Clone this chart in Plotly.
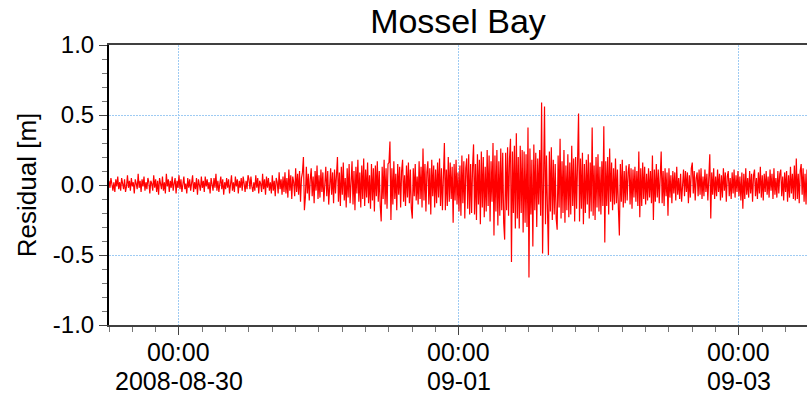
import pandas as pd
import plotly.graph_objects as go

# Residual water level [m], 10-minute samples starting 2008-08-29 12:00
start_time = "2008-08-29 12:00"
step = "10min"

res_day1 = [
    0.03,-0.02,0.05,0.01,-0.04,0.02,-0.05,0.04,-0.01,0.06,-0.03,0.02,
    -0.04,0.05,0.00,-0.03,0.04,-0.05,-0.01,0.07,-0.02,0.03,-0.04,0.05,
    -0.01,0.02,-0.06,0.04,0.01,-0.03,0.08,-0.02,0.03,-0.05,0.04,-0.01,
    0.06,-0.04,0.02,-0.03,0.05,0.02,-0.06,0.03,0.01,-0.04,0.07,-0.02,
    0.04,-0.05,0.03,-0.07,0.05,0.00,-0.03,0.06,-0.04,0.02,-0.06,0.08,
    -0.01,0.04,-0.05,0.03,-0.02,0.06,-0.04,0.01,0.05,-0.06,0.03,-0.02,
    0.07,-0.03,0.04,-0.05,0.02,0.06,-0.03,0.01,-0.06,0.05,-0.02,0.04,
    -0.04,0.03,0.07,-0.05,0.02,-0.03,0.05,-0.07,0.04,0.00,-0.04,0.06,
    -0.02,0.03,-0.05,0.06,-0.01,0.04,-0.03,0.02,-0.06,0.05,0.01,-0.04,
    0.05,-0.02,0.08,-0.04,0.03,-0.05,0.01,0.06,-0.03,0.04,-0.07,0.02,
    -0.03,0.05,-0.02,0.04,-0.06,0.03,0.07,-0.04,0.02,-0.05,0.06,-0.01,
    0.04,-0.06,0.03,-0.02,0.05,-0.04,0.06,0.01,-0.05,0.03,-0.03,0.07,
]
res_day2 = [
    0.04,-0.03,0.06,-0.01,-0.05,0.02,-0.04,0.07,-0.02,0.05,-0.06,0.03,
    0.01,-0.05,0.08,-0.03,0.04,-0.07,0.06,-0.02,0.05,-0.04,0.02,-0.06,
    0.07,-0.04,0.03,-0.08,0.05,0.02,-0.06,0.09,-0.03,0.04,-0.07,0.06,
    -0.05,0.09,-0.06,0.05,-0.09,0.11,-0.04,0.07,-0.10,0.06,0.02,-0.08,
    0.12,-0.05,0.08,-0.07,0.10,-0.12,0.05,0.09,0.20,-0.18,-0.09,0.13,
    -0.06,0.08,-0.11,0.04,0.12,-0.08,0.06,-0.13,0.10,-0.04,0.14,-0.10,
    0.07,-0.09,0.11,-0.05,0.09,-0.12,0.06,0.13,-0.08,0.10,-0.14,0.05,
    0.12,-0.07,0.09,-0.13,0.11,-0.06,0.14,0.20,-0.12,0.09,-0.15,0.13,
    -0.07,0.16,-0.11,0.05,-0.16,0.12,-0.09,0.15,-0.13,0.08,0.17,-0.14,
    0.10,-0.18,0.13,-0.06,0.18,-0.12,0.09,-0.16,0.14,-0.10,0.19,-0.15,
    0.11,-0.09,0.16,-0.13,0.07,-0.17,0.15,-0.11,0.12,-0.19,0.14,-0.08,
    0.17,-0.12,0.10,-0.15,-0.26,0.13,-0.10,0.18,-0.14,0.12,-0.17,0.15,
]
res_day3 = [
    0.16,0.31,-0.25,0.12,-0.14,0.17,-0.10,0.08,-0.18,0.15,-0.07,0.13,
    -0.16,0.10,0.18,-0.12,0.07,-0.15,0.14,-0.09,0.16,-0.13,0.11,-0.17,
    -0.24,0.12,-0.08,0.15,-0.11,0.06,-0.14,0.17,-0.10,0.13,-0.16,0.26,
    -0.11,0.15,-0.19,0.09,0.17,-0.14,0.12,-0.21,0.18,-0.08,0.14,-0.16,
    0.11,-0.13,0.16,-0.09,0.19,-0.15,0.12,-0.18,0.14,0.30,-0.18,0.11,
    -0.15,0.20,-0.12,0.16,-0.10,0.13,-0.27,0.15,-0.11,0.18,-0.14,0.09,
    -0.19,0.14,-0.22,0.21,-0.13,0.17,-0.24,0.12,0.19,-0.17,0.22,-0.21,
    0.15,-0.20,0.13,0.29,-0.21,0.15,-0.25,0.22,-0.14,0.18,-0.28,0.24,
    -0.16,0.20,-0.23,0.13,-0.19,0.25,-0.15,0.21,-0.26,0.17,-0.12,0.30,
    -0.36,0.21,-0.19,0.25,-0.29,0.17,-0.22,0.26,-0.18,0.23,-0.27,-0.39,
    0.23,-0.18,0.27,-0.22,0.19,0.33,-0.55,0.24,-0.20,0.28,-0.31,0.37,
    -0.24,0.20,-0.31,0.28,-0.20,0.25,-0.34,0.24,-0.27,0.22,-0.30,0.41,
]
res_day4 = [
    -0.66,0.26,-0.21,0.18,-0.44,0.29,-0.18,0.23,-0.30,0.19,-0.14,0.25,
    -0.22,0.59,-0.49,0.20,0.56,-0.28,0.21,-0.17,-0.50,0.24,-0.19,0.27,
    -0.25,0.18,-0.21,0.15,-0.24,-0.32,0.21,-0.16,0.33,-0.24,0.17,-0.20,
    0.25,-0.27,0.14,-0.18,0.22,-0.23,0.16,-0.21,0.28,-0.15,0.19,-0.26,
    0.20,-0.17,0.23,0.51,-0.26,0.19,-0.17,0.23,-0.28,0.15,-0.20,0.18,
    -0.14,0.22,-0.24,0.16,-0.19,0.41,-0.22,0.14,-0.25,0.20,-0.16,0.22,
    -0.19,0.13,-0.21,0.17,-0.15,0.42,-0.41,0.17,-0.15,0.20,-0.21,0.26,
    -0.12,0.16,-0.18,0.12,-0.14,0.19,-0.13,0.11,-0.17,-0.36,0.15,-0.12,
    0.18,-0.16,0.10,-0.13,0.14,-0.11,0.09,0.15,-0.14,0.12,-0.17,0.11,
    -0.09,0.13,-0.12,0.10,-0.15,0.24,-0.23,0.12,-0.15,0.16,-0.10,0.13,
    -0.14,0.08,-0.11,0.12,-0.09,0.10,-0.13,0.21,-0.25,0.11,-0.12,0.15,
    -0.09,0.11,-0.13,0.07,0.24,-0.13,0.10,-0.15,0.12,-0.08,0.09,-0.22,
]
res_day5 = [
    0.12,-0.09,0.07,-0.13,0.10,-0.06,0.09,-0.11,0.13,-0.07,0.05,-0.10,
    0.08,-0.12,0.06,0.11,-0.08,0.10,-0.05,0.09,-0.13,0.07,-0.09,0.12,
    0.16,-0.06,0.10,-0.11,0.05,0.09,-0.08,0.11,-0.07,0.12,-0.10,0.06,
    -0.08,0.11,-0.05,0.08,-0.11,0.07,0.22,-0.24,0.09,-0.07,0.12,-0.10,
    0.06,-0.08,0.11,-0.05,0.08,-0.11,0.07,-0.09,0.12,-0.04,0.09,-0.12,
    0.06,0.10,-0.08,0.05,-0.10,0.09,-0.06,0.11,-0.09,0.07,-0.05,0.10,
    -0.08,0.06,-0.11,0.09,-0.17,0.08,-0.10,0.12,-0.07,0.05,-0.09,0.10,
    -0.06,0.08,-0.12,0.07,0.11,-0.08,0.05,-0.10,0.09,-0.06,0.13,-0.09,
    0.07,-0.11,0.08,-0.05,0.10,-0.07,0.06,-0.09,0.11,-0.04,0.08,-0.10,
    0.12,-0.07,0.05,-0.09,0.10,-0.06,0.08,0.11,-0.08,0.06,-0.11,0.09,
    -0.05,0.10,-0.12,0.07,-0.09,0.13,-0.06,0.08,-0.10,0.14,-0.11,0.19,
    -0.10,0.08,-0.13,0.10,0.15,-0.07,0.12,-0.12,0.08,-0.14,0.11,-0.09,
]

x_tick_vals = ["2008-08-30", "2008-09-01", "2008-09-03"]
x_tick_time = ["00:00", "00:00", "00:00"]
x_tick_date = ["2008-08-30", "09-01", "09-03"]
y_tick_vals = [-1.0, -0.5, 0.0, 0.5, 1.0]
y_tick_text = ["-1.0", "-0.5", "0.0", "0.5", "1.0"]

residual = res_day1 + res_day2 + res_day3 + res_day4 + res_day5
times = pd.date_range(start=start_time, periods=len(residual), freq=step)

FONT = "Liberation Sans, Arial, sans-serif"
GRID = "#9ecbf3"
W, H = 807, 398
ML, MR, MT, MB = 109, 0, 45, 73
PH = H - MT - MB

fig = go.Figure(
    go.Scatter(x=times, y=residual, mode="lines",
               line=dict(color="#ff0000", width=1.2), hoverinfo="skip")
)

fig.update_layout(
    width=W, height=H,
    margin=dict(l=ML, r=MR, t=MT, b=MB, autoexpand=False),
    paper_bgcolor="white", plot_bgcolor="white",
    showlegend=False,
    font=dict(family=FONT, color="black"),
    title=dict(text="Mossel Bay", x=(ML + W) / 2 / W, xanchor="center",
               yref="container", y=1 - 21 / H, yanchor="middle",
               font=dict(size=34, family=FONT, color="black")),
)

# two-line date tick labels placed under the axis
for xv, t1, t2 in zip(x_tick_vals, x_tick_time, x_tick_date):
    fig.add_annotation(x=xv, xref="x", yref="paper", y=-(352 - (H - MB)) / PH,
                       yanchor="middle", text=t1, showarrow=False,
                       font=dict(size=25, family=FONT, color="black"))
    fig.add_annotation(x=xv, xref="x", yref="paper", y=-(381 - (H - MB)) / PH,
                       yanchor="middle", text=t2, showarrow=False,
                       font=dict(size=25, family=FONT, color="black"))

fig.update_xaxes(
    range=["2008-08-29 12:00", "2008-09-03 11:40"],
    tickmode="array", tickvals=x_tick_vals, showticklabels=False,
    ticks="outside", ticklen=8, tickwidth=1, tickcolor="#444",
    showline=True, linecolor="#404040", linewidth=2, mirror=True,
    showgrid=True, gridcolor=GRID, griddash="2px,1px", gridwidth=1,
    zeroline=False, automargin=False,
    minor=dict(tick0="2008-08-30", dtick=4 * 3600 * 1000, ticks="outside",
               ticklen=5, tickcolor="#777", showgrid=False),
)

fig.update_yaxes(
    range=[-1, 1],
    tickmode="array", tickvals=y_tick_vals, ticktext=y_tick_text,
    ticks="outside", ticklen=8, tickwidth=1, tickcolor="#444",
    tickfont=dict(size=24, family=FONT, color="black"),
    showline=True, linecolor="#000", linewidth=2, mirror=False,
    showgrid=True, gridcolor=GRID, griddash="2px,1px", gridwidth=1,
    zeroline=False, automargin=False,
    minor=dict(dtick=0.1, tick0=0, ticks="outside", ticklen=5,
               tickcolor="#777", showgrid=False),
    title=dict(text="Residual [m]", standoff=9,
               font=dict(size=26, family=FONT, color="black")),
)

fig.write_html("out.html",
               config={"displayModeBar": False, "staticPlot": True},
               post_script="document.body.style.margin='0';"
                           "document.body.style.overflow='hidden';")
